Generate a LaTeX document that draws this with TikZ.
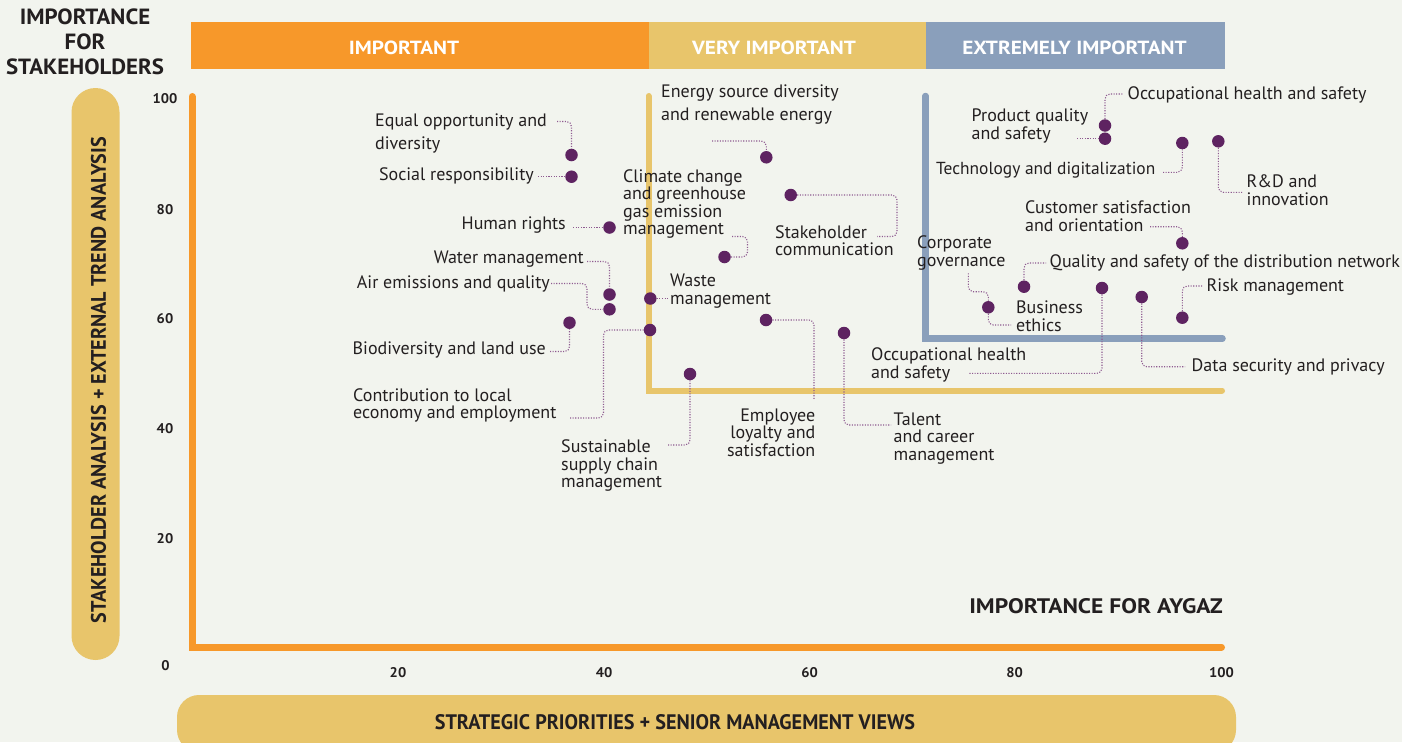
\documentclass[tikz,border=0pt]{standalone}
\usepackage{fontspec}
\setmainfont{PT Sans}
\newfontfamily\hdrwide[FakeStretch=1.12]{PT Sans}
\newfontfamily\hdrmid[FakeStretch=1.04]{PT Sans}
\newfontfamily\hdrnar[FakeStretch=0.96]{PT Sans}
\definecolor{bg}{HTML}{F2F4EE}
\definecolor{orng}{HTML}{F7982A}
\definecolor{gold}{HTML}{E8C56B}
\definecolor{bluegrey}{HTML}{8A9FBB}
\definecolor{dotp}{HTML}{5E2361}
\definecolor{connc}{HTML}{8E5A90}
\definecolor{txt}{HTML}{231F20}
\begin{document}
\begin{tikzpicture}[x=1pt,y=-1pt,
  lab/.style={font=\fontsize{18}{17.6}\selectfont, text=txt, inner sep=0pt, align=left},
  labw/.style={font=\fontsize{18}{23}\selectfont, text=txt, inner sep=0pt, align=left},
  dot/.style={circle, fill=dotp, minimum size=12.5pt, inner sep=0pt},
  conn/.style={draw=connc, line width=1.1pt, dash pattern=on 1.1pt off 1.5pt, rounded corners=5pt},
  bartext/.style={font=\hdrwide\bfseries\fontsize{19}{19}\selectfont, text=white, inner sep=0pt},
  tick/.style={font=\hdrmid\bfseries\fontsize{14}{14}\selectfont, text=txt, inner sep=0pt}
]
\useasboundingbox (0,0) rectangle (1402,742);
\fill[bg] (0,0) rectangle (1402,742);

% top bars
\fill[orng] (191,22) rectangle (649,69);
\fill[gold] (649,22) rectangle (926,69);
\fill[bluegrey] (926,22) rectangle (1225,69);
\node[bartext] (bimp) at (404,48) {IMPORTANT};
\node[bartext] (bvery) at (774,48) {VERY IMPORTANT};
\node[bartext] (bext) at (1074.5,48) {EXTREMELY IMPORTANT};

% title
\node[align=center, text=txt, inner sep=0pt, font=\hdrmid\bfseries\fontsize{22}{25}\selectfont] (title) at (85,42) {IMPORTANCE\\FOR\\STAKEHOLDERS};

% vertical pill
\fill[gold, rounded corners=24pt] (71.5,88) rectangle (119.5,660);
\node[rotate=90, text=txt, inner sep=0pt, font=\hdrnar\bfseries\fontsize{21}{21}\selectfont] (yaxis) at (98.5,380) {STAKEHOLDER ANALYSIS + EXTERNAL TREND ANALYSIS};

% bottom pill
\fill[gold, rounded corners=22pt] (177,695) rectangle (1236,752);
\node[text=txt, inner sep=0pt, font=\hdrnar\bfseries\fontsize{21}{21}\selectfont] (xaxis) at (675,722.5) {STRATEGIC PRIORITIES + SENIOR MANAGEMENT VIEWS};
\node[anchor=east, text=txt, inner sep=0pt, font=\hdrwide\bfseries\fontsize{21}{21}\selectfont] (aygaz) at (1223,606.5) {IMPORTANCE FOR AYGAZ};

% ticks
\node[tick] (y100) at (165,98.5) {100};
\node[tick] (y80) at (165,210) {80};
\node[tick] (y60) at (165,318.5) {60};
\node[tick] (y40) at (165,429) {40};
\node[tick] (y20) at (165,539) {20};
\node[tick] (y0) at (165.5,666) {0};
\node[tick] (x20) at (398,672.5) {20};
\node[tick] (x40) at (604,672.5) {40};
\node[tick] (x60) at (809.5,672.5) {60};
\node[tick] (x80) at (1014.5,672.5) {80};
\node[tick] (x100) at (1221.5,672.5) {100};

% axis lines
\draw[orng, line width=7pt, line cap=round] (192,96.5) -- (192,647) -- (1221.5,647);
\draw[gold, line width=6pt, line cap=round] (648.5,96) -- (648.5,390.5) -- (1222,390.5);
\draw[bluegrey, line width=6.5pt, line cap=round] (925.5,96) -- (925.5,338.5) -- (1222.5,338.5);

% dots
\node[dot] (deq) at (571.5,155) {};
\node[dot] (dsoc) at (571.5,176.7) {};
\node[dot] (dhr) at (609.5,227.5) {};
\node[dot] (dwat) at (609.5,294.5) {};
\node[dot] (dair) at (609.5,309.3) {};
\node[dot] (dwas) at (650.3,298.5) {};
\node[dot] (dbio) at (569.5,322.7) {};
\node[dot] (dcon) at (650,330) {};
\node[dot] (dsus) at (690,374) {};
\node[dot] (demp) at (766,320) {};
\node[dot] (dtal) at (844,333) {};
\node[dot] (dene) at (766.3,157.3) {};
\node[dot] (dsta) at (790.7,195) {};
\node[dot] (dcli) at (724.5,257) {};
\node[dot] (docc) at (1105,125.5) {};
\node[dot] (dpro) at (1105,138.7) {};
\node[dot] (dtec) at (1182.3,143) {};
\node[dot] (drd) at (1218.3,141.3) {};
\node[dot] (dcus) at (1182.3,243.3) {};
\node[dot] (dqua) at (1024,286.7) {};
\node[dot] (dcor) at (988.3,307.3) {};
\node[dot] (docl) at (1102,288) {};
\node[dot] (ddat) at (1141.7,297) {};
\node[dot] (dris) at (1182.3,317.7) {};

% connector free ends
\coordinate (ceq) at (557,121.5);
\coordinate (csoc) at (538,176.7);
\coordinate (chr) at (573,227.5);
\coordinate (cwat) at (587,261.5);
\coordinate (cair) at (551,283.5);
\coordinate (cwas) at (669,298.5);
\coordinate (cbio) at (550,351.5);
\coordinate (ccon) at (570,418);
\coordinate (csus) at (668,445);
\coordinate (cemp) at (814,400);
\coordinate (ctal) at (891,425);
\coordinate (cene) at (712,141);
\coordinate (csta) at (877,236.5);
\coordinate (ccli) at (732,236.5);
\coordinate (cocc) at (1123,94);
\coordinate (cpro) at (1077,138.7);
\coordinate (ctec) at (1163,172.3);
\coordinate (crd) at (1243,192.3);
\coordinate (ccus) at (1150,226.7);
\coordinate (cqua) at (1046,263);
\coordinate (ccor) at (968.3,273.3);
\coordinate (cbus) at (1011,325);
\coordinate (cocl) at (968,373.3);
\coordinate (cdat) at (1185,366.7);
\coordinate (cris) at (1202,286);

% connectors
\draw[conn] (ceq) -- (571.5,121.5) -- (deq);
\draw[conn] (csoc) -- (dsoc);
\draw[conn] (chr) -- (dhr);
\draw[conn] (cwat) -- (609.5,261.5) -- (dwat);
\draw[conn] (cair) -- (587,283.5) -- (587,309.3) -- (dair);
\draw[conn] (dwas) -- (cwas);
\draw[conn] (cbio) -- (569.5,351.5) -- (dbio);
\draw[conn] (ccon) -- (603.5,418) -- (603.5,330) -- (dcon);
\draw[conn] (csus) -- (690,445) -- (dsus);
\draw[conn] (demp) -- (814,320) -- (cemp);
\draw[conn] (dtal) -- (844,425) -- (ctal);
\draw[conn] (cene) -- (766.3,141) -- (dene);
\draw[conn] (dsta) -- (897,195) -- (897,236.5) -- (csta);
\draw[conn] (ccli) -- (747.5,236.5) -- (747.5,257) -- (dcli);
\draw[conn] (docc) -- (1105,94) -- (cocc);
\draw[conn] (cpro) -- (dpro);
\draw[conn] (ctec) -- (1182.3,172.3) -- (dtec);
\draw[conn] (drd) -- (1218.3,192.3) -- (crd);
\draw[conn] (ccus) -- (1182.3,226.7) -- (dcus);
\draw[conn] (dqua) -- (1024,263) -- (cqua);
\draw[conn] (ccor) -- (968.3,291.7) -- (988.3,291.7) -- (dcor);
\draw[conn] (dcor) -- (988.3,325) -- (cbus);
\draw[conn] (docl) -- (1102,373.3) -- (cocl);
\draw[conn] (ddat) -- (1141.7,366.7) -- (cdat);
\draw[conn] (dris) -- (1182.3,286) -- (cris);

% labels
\node[labw, anchor=west] (leq) at (375,133.5) {Equal opportunity and\\diversity};
\node[lab, anchor=east] (lsoc) at (534,176) {Social responsibility};
\node[lab, anchor=east] (lhr) at (566,225) {Human rights};
\node[lab, anchor=east] (lwat) at (584,259.5) {Water management};
\node[lab, anchor=east] (lair) at (550,284) {Air emissions and quality};
\node[lab, anchor=east] (lbio) at (546,350) {Biodiversity and land use};
\node[lab, anchor=west] (lcon) at (353,405.5) {Contribution to local\\economy and employment};
\node[lab, anchor=west] (lsus) at (561,465.5) {Sustainable\\supply chain\\management};
\node[lab, anchor=east, align=right] (lemp) at (815.5,432.5) {Employee\\loyalty and\\satisfaction};
\node[lab, anchor=west] (ltal) at (893.5,438.5) {Talent\\and career\\management};
\node[lab, anchor=west] (locl) at (871,365) {Occupational health\\and safety};
\node[lab, anchor=west] (lwas) at (670,291) {Waste\\management};
\node[lab, anchor=west] (lcli) at (623,204) {Climate change\\and greenhouse\\gas emission\\management};
\node[labw, anchor=west] (lene) at (661,104.5) {Energy source diversity\\and renewable energy};
\node[lab, anchor=west] (lsta) at (775,240.5) {Stakeholder\\communication};
\node[lab, anchor=west] (lcor) at (917,253) {Corporate\\governance};
\node[lab, anchor=west] (lpro) at (971.5,126) {Product quality\\and safety};
\node[lab, anchor=west] (locc) at (1127.5,94.5) {Occupational health and safety};
\node[lab, anchor=west, font=\fontsize{17.4}{17.6}\selectfont] (ltec) at (936,170) {Technology and digitalization};
\node[lab, anchor=west] (lrd) at (1246.5,190) {R\&D and\\innovation};
\node[lab, anchor=west] (lcus) at (1025,216) {Customer satisfaction\\and orientation};
\node[lab, anchor=west] (lqua) at (1049.5,263) {Quality and safety of the distribution network};
\node[lab, anchor=west] (lbus) at (1016,316) {Business\\ethics};
\node[lab, anchor=west] (lris) at (1206.5,287) {Risk management};
\node[lab, anchor=west] (ldat) at (1191.5,367) {Data security and privacy};
\end{tikzpicture}
\end{document}
